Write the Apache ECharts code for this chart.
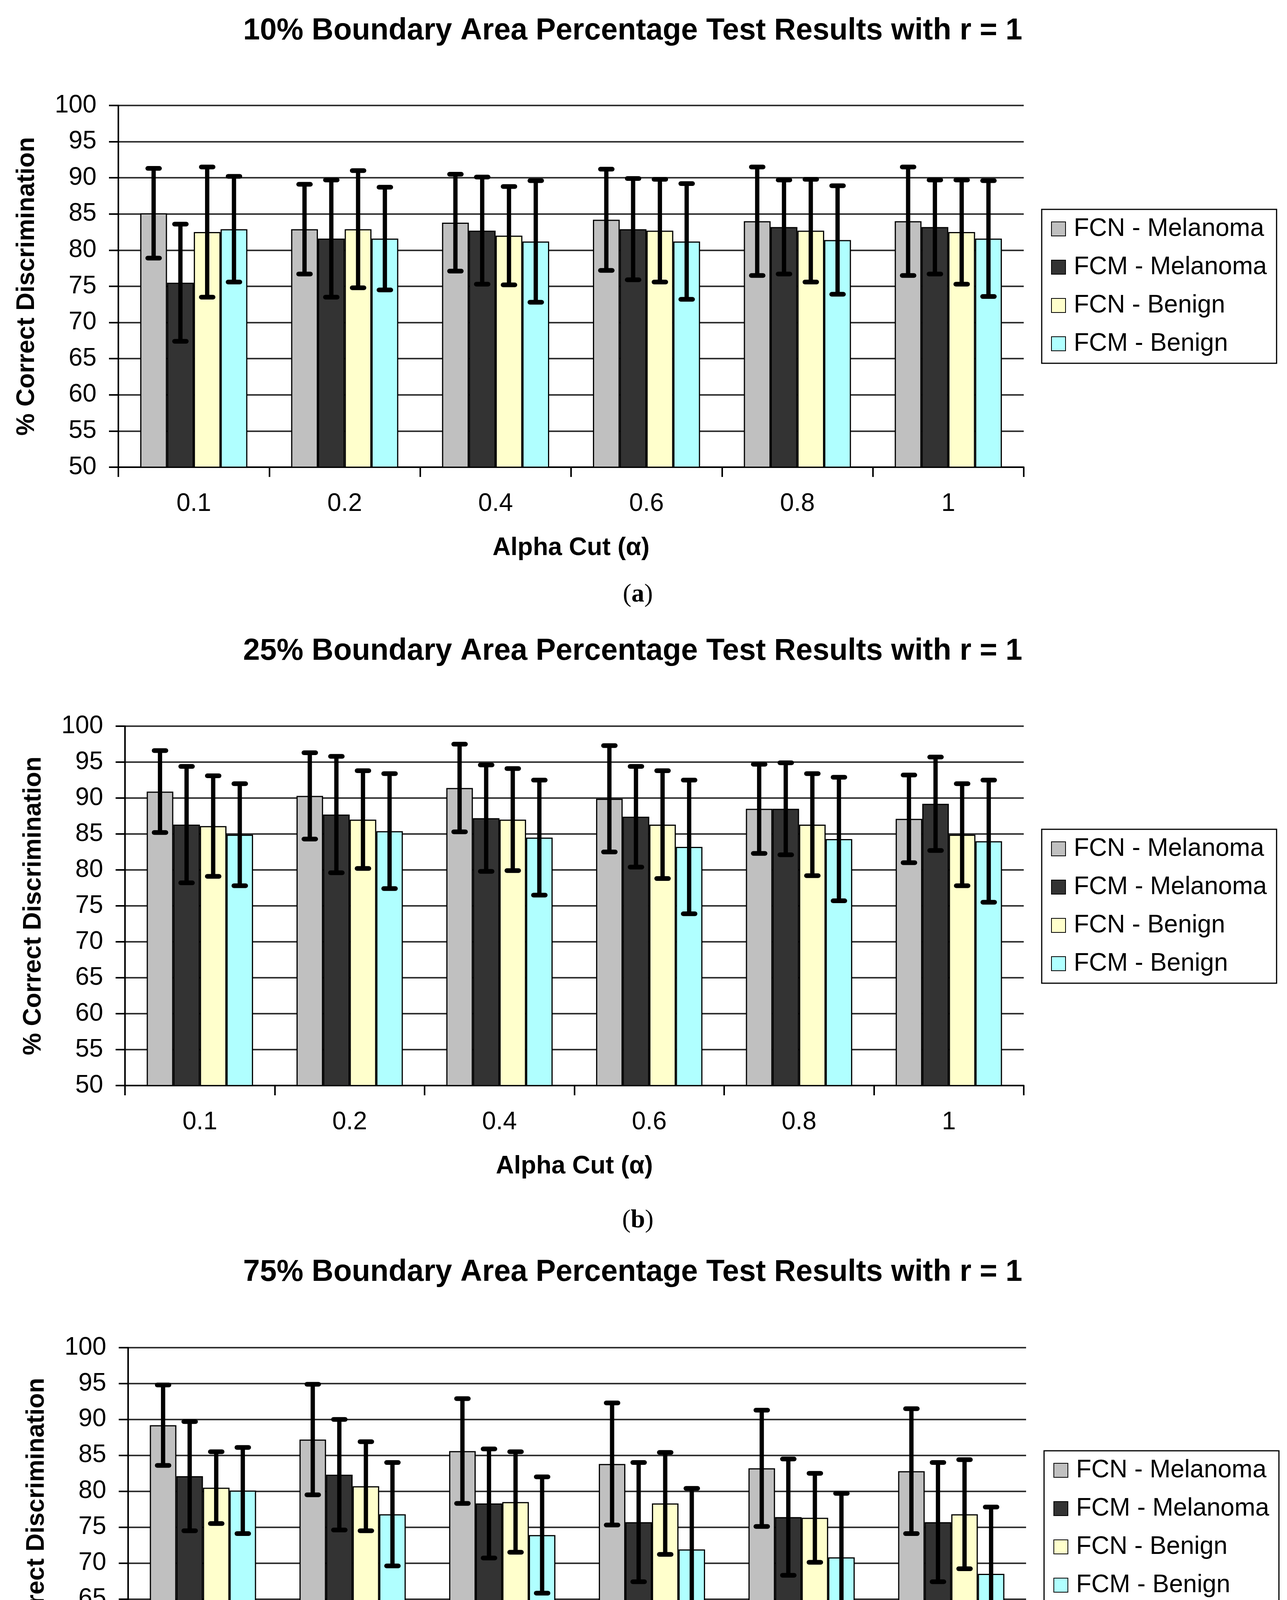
<!DOCTYPE html>
<html>
<head>
<meta charset="utf-8">
<script src="https://cdn.jsdelivr.net/npm/echarts@6/dist/echarts.min.js"></script>
<style>
html, body { margin: 0; padding: 0; background: #fff; }
#chart { width: 3295px; height: 4757px; }
</style>
</head>
<body>
<div id="chart"></div>
<script>
var alphaCuts = ['0.1', '0.2', '0.4', '0.6', '0.8', '1'];
var seriesNames = ['FCN - Melanoma', 'FCM - Melanoma', 'FCN - Benign', 'FCM - Benign'];
var seriesColors = ['#c0c0c0', '#333333', '#ffffcc', '#b0ffff'];

// 10% boundary area, rows follow seriesNames
var mean10 = [
    [85.1, 82.9, 83.8, 84.2, 84.0, 84.0],
    [75.5, 81.6, 82.7, 82.9, 83.2, 83.2],
    [82.5, 82.9, 82.0, 82.7, 82.7, 82.5],
    [82.9, 81.6, 81.2, 81.2, 81.4, 81.6]
];
var err10 = [
    [6.2, 6.2, 6.7, 7.0, 7.5, 7.5],
    [8.1, 8.1, 7.4, 7.0, 6.5, 6.5],
    [9.0, 8.1, 6.8, 7.1, 7.1, 7.2],
    [7.3, 7.1, 8.4, 8.0, 7.5, 8.0]
];

// 25% boundary area
var mean25 = [
    [90.9, 90.3, 91.4, 89.9, 88.5, 87.1],
    [86.3, 87.7, 87.2, 87.4, 88.5, 89.2],
    [86.1, 87.0, 87.0, 86.3, 86.3, 84.9],
    [84.9, 85.4, 84.5, 83.2, 84.3, 84.0]
];
var err25 = [
    [5.7, 6.0, 6.1, 7.4, 6.2, 6.1],
    [8.1, 8.1, 7.4, 7.0, 6.4, 6.5],
    [7.0, 6.8, 7.1, 7.5, 7.1, 7.1],
    [7.1, 8.0, 8.0, 9.3, 8.6, 8.5]
];

// 75% boundary area
var mean75 = [
    [89.2, 87.2, 85.6, 83.8, 83.2, 82.8],
    [82.1, 82.3, 78.3, 75.7, 76.4, 75.7],
    [80.5, 80.7, 78.5, 78.3, 76.3, 76.8],
    [80.1, 76.8, 73.9, 71.9, 70.8, 68.5]
];
var err75 = [
    [5.6, 7.7, 7.3, 8.5, 8.1, 8.7],
    [7.6, 7.7, 7.6, 8.3, 8.1, 8.3],
    [5.0, 6.2, 7.0, 7.1, 6.2, 7.6],
    [6.0, 7.2, 8.1, 8.5, 8.9, 9.3]
];

var panels = [
    { title: '10% Boundary Area Percentage Test Results with r = 1', mean: mean10, err: err10, tag: 'a',
      grid: { left: 303, top: 270, width: 2318, height: 926 }, titleTop: 41, legend: [2667, 536], tagY: 1523 },
    { title: '25% Boundary Area Percentage Test Results with r = 1', mean: mean25, err: err25, tag: 'b',
      grid: { left: 320, top: 1859, width: 2301, height: 920 }, titleTop: 1629, legend: [2667, 2123], tagY: 3125 },
    { title: '75% Boundary Area Percentage Test Results with r = 1', mean: mean75, err: err75, tag: 'c',
      grid: { left: 328, top: 3450, width: 2299, height: 919 }, titleTop: 3219, legend: [2673, 3714], tagY: 4694 }
];

var FONT = 'Liberation Sans';
var catGap = 0.29;

var option = {
    backgroundColor: '#ffffff',
    animation: false,
    title: [], grid: [], xAxis: [], yAxis: [], legend: [], series: [], graphic: []
};

panels.forEach(function (p, k) {
    option.title.push({
        text: p.title,
        left: 1620, top: p.titleTop, textAlign: 'center', padding: 0,
        textStyle: { fontFamily: FONT, fontSize: 77, fontWeight: 'bold', color: '#000' }
    });
    option.grid.push(p.grid);
    option.xAxis.push({
        type: 'category', gridIndex: k, data: alphaCuts,
        name: 'Alpha Cut (\u03b1)', nameLocation: 'middle', nameGap: 175,
        nameTextStyle: { fontFamily: FONT, fontSize: 64, fontWeight: 'bold', color: '#000' },
        axisLine: { lineStyle: { color: '#000', width: 4 } },
        axisTick: { show: true, length: 25, interval: 0, lineStyle: { color: '#000', width: 4 } },
        axisLabel: { fontFamily: FONT, fontSize: 64, color: '#000', margin: 62, interval: 0 },
        splitLine: { show: false }
    });
    option.yAxis.push({
        type: 'value', gridIndex: k, min: 50, max: 100, interval: 5,
        name: '% Correct Discrimination', nameLocation: 'middle', nameGap: 202,
        nameTextStyle: { fontFamily: FONT, fontSize: 64, fontWeight: 'bold', color: '#000' },
        axisLine: { show: true, lineStyle: { color: '#000', width: 4 } },
        axisTick: { show: true, length: 24, lineStyle: { color: '#000', width: 4 } },
        axisLabel: { fontFamily: FONT, fontSize: 64, color: '#000', margin: 56 },
        splitLine: { show: true, lineStyle: { color: '#333', width: 4 } }
    });
    option.legend.push({
        left: p.legend[0], top: p.legend[1], orient: 'vertical',
        data: seriesNames, icon: 'rect', itemWidth: 36, itemHeight: 36, itemGap: 28,
        padding: [15, 25, 15, 24], borderColor: '#000', borderWidth: 3, backgroundColor: '#fff',
        selectedMode: false,
        textStyle: { fontFamily: FONT, fontSize: 64, color: '#000', lineHeight: 70, padding: [0, 0, 0, 16] }
    });

    seriesNames.forEach(function (name, s) {
        option.series.push({
            type: 'bar', name: name, xAxisIndex: k, yAxisIndex: k,
            data: p.mean[s], barGap: '0%', barCategoryGap: (catGap * 100) + '%',
            itemStyle: { color: seriesColors[s], borderColor: '#000', borderWidth: 3 },
            z: 2
        });
    });

    // error bars: [category index, series index, mean, half width]
    var errData = [];
    seriesNames.forEach(function (name, s) {
        alphaCuts.forEach(function (c, i) {
            errData.push([i, s, p.mean[s][i], p.err[s][i]]);
        });
    });
    option.series.push({
        type: 'custom', name: 'error' + k, xAxisIndex: k, yAxisIndex: k,
        data: errData, encode: { x: 0, y: 2 }, z: 5,
        renderItem: function (params, api) {
            var cat = api.value(0), s = api.value(1), m = api.value(2), e = api.value(3);
            var band = api.size([1, 0])[0];
            var groupW = band * (1 - catGap);
            var bw = groupW / seriesNames.length;
            var x = api.coord([cat, m])[0] - groupW / 2 + bw * (s + 0.5);
            var yTop = api.coord([cat, m + e])[1];
            var yBot = api.coord([cat, m - e])[1];
            var st = { stroke: '#000', lineWidth: 11 };
            var cap = { stroke: '#000', lineWidth: 12, lineCap: 'round' };
            return {
                type: 'group',
                children: [
                    { type: 'line', shape: { x1: x, y1: yTop, x2: x, y2: yBot }, style: st },
                    { type: 'line', shape: { x1: x - 15, y1: yTop, x2: x + 15, y2: yTop }, style: cap },
                    { type: 'line', shape: { x1: x - 15, y1: yBot, x2: x + 15, y2: yBot }, style: cap }
                ]
            };
        }
    });

    option.graphic.push({
        type: 'text', x: 1633, y: p.tagY,
        style: {
            text: '({b|' + p.tag + '})', textAlign: 'center', textVerticalAlign: 'middle',
            fontFamily: 'Liberation Serif', fontSize: 66, fill: '#000',
            rich: { b: { fontFamily: 'Liberation Serif', fontSize: 66, fontWeight: 'bold' } }
        }
    });
});

var chart = echarts.init(document.getElementById('chart'));
chart.setOption(option);
</script>
</body>
</html>
